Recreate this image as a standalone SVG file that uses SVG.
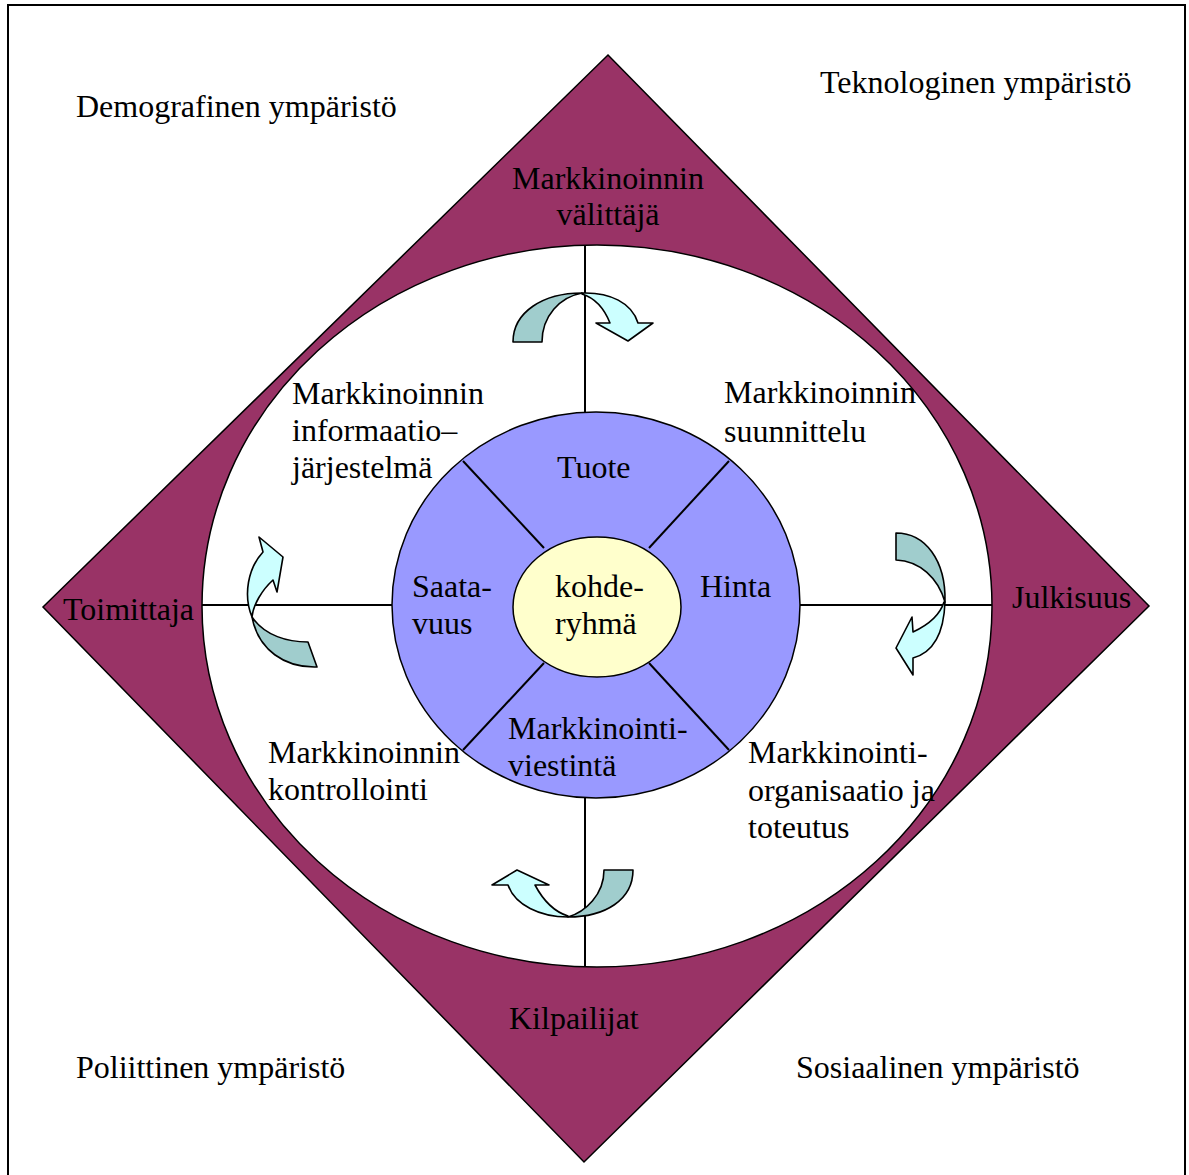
<svg xmlns="http://www.w3.org/2000/svg" width="1189" height="1175" viewBox="0 0 1189 1175">
  <style>
    text { font-family: "Liberation Serif", "Times New Roman", serif; font-size: 32px; fill: #000; }
    .mid { text-anchor: middle; }
    .edge { stroke: #000; stroke-width: 1.5; }
    .rule { stroke: #000; stroke-width: 2; fill: none; }
    .back { fill: #A0CDCD; stroke: #000; stroke-width: 1.6; stroke-linejoin: round; }
    .front { fill: #CCFFFF; stroke: #000; stroke-width: 1.6; stroke-linejoin: round; }
  </style>

  <!-- frame -->
  <rect x="8" y="5" width="1177" height="1180" fill="#fff" stroke="#000" stroke-width="2"/>

  <!-- environment labels -->
  <g id="env-demografinen"><text x="76" y="117">Demografinen ympäristö</text></g>
  <g id="env-teknologinen"><text x="820" y="93">Teknologinen ympäristö</text></g>
  <g id="env-poliittinen"><text x="76" y="1078">Poliittinen ympäristö</text></g>
  <g id="env-sosiaalinen"><text x="796" y="1078">Sosiaalinen ympäristö</text></g>

  <!-- outer diamond: market actors -->
  <g id="actors">
    <polygon points="608,55 1149,606 584,1162 43,607" fill="#993366" class="edge"/>
  </g>

  <!-- white management area -->
  <g id="management">
    <ellipse cx="597" cy="606" rx="395" ry="361" fill="#fff" class="edge"/>
  </g>

  <!-- connectors: cross and sector dividers -->
  <g id="connectors">
    <line x1="585" y1="245" x2="585" y2="413" class="rule"/>
    <line x1="585" y1="798" x2="585" y2="967" class="rule"/>
    <line x1="202" y1="605" x2="392" y2="605" class="rule"/>
    <line x1="800" y1="605" x2="992" y2="605" class="rule"/>
  </g>

  <!-- marketing mix ring -->
  <g id="mix">
    <ellipse cx="596" cy="605" rx="204" ry="193" fill="#9999FF" class="edge"/>
    <line x1="463" y1="461" x2="544" y2="548" class="rule"/>
    <line x1="729" y1="461" x2="649" y2="548" class="rule"/>
    <line x1="463" y1="750" x2="544" y2="663" class="rule"/>
    <line x1="729" y1="750" x2="649" y2="663" class="rule"/>
  </g>

  <!-- target group -->
  <g id="kohderyhma">
    <ellipse cx="597" cy="607" rx="84" ry="70" fill="#FFFFCC" class="edge"/>
    <text x="555" y="597">kohde-</text>
    <text x="555" y="634">ryhmä</text>
  </g>

  <!-- mix labels -->
  <g id="tuote"><text x="557" y="478">Tuote</text></g>
  <g id="hinta"><text x="700" y="597">Hinta</text></g>
  <g id="saatavuus"><text x="412" y="597">Saata-</text><text x="412" y="634">vuus</text></g>
  <g id="viestinta"><text x="508" y="739">Markkinointi-</text><text x="508" y="776">viestintä</text></g>

  <!-- management labels -->
  <g id="informaatio">
    <text x="292" y="404">Markkinoinnin</text>
    <text x="292" y="441">informaatio–</text>
    <text x="292" y="478">järjestelmä</text>
  </g>
  <g id="suunnittelu">
    <text x="724" y="403">Markkinoinnin</text>
    <text x="724" y="442">suunnittelu</text>
  </g>
  <g id="kontrollointi">
    <text x="268" y="763">Markkinoinnin</text>
    <text x="268" y="800">kontrollointi</text>
  </g>
  <g id="organisaatio">
    <text x="748" y="763">Markkinointi-</text>
    <text x="748" y="801">organisaatio ja</text>
    <text x="748" y="838">toteutus</text>
  </g>

  <!-- actor labels -->
  <g id="valittaja"><text x="608" y="189" class="mid">Markkinoinnin</text><text x="608" y="225" class="mid">välittäjä</text></g>
  <g id="toimittaja"><text x="63" y="620">Toimittaja</text></g>
  <g id="julkisuus"><text x="1012" y="608">Julkisuus</text></g>
  <g id="kilpailijat"><text x="509" y="1029">Kilpailijat</text></g>

  <!-- process cycle arrows -->
  <g id="arrow-top">
    <path class="back" d="M513,342 C513,312 543,293 582,293 C560,297 542,316 542,342 Z"/>
    <path class="front" d="M582,293 C610,292 632,303 638,323 L653,323 L628,341 L596,323 L610,323 C604,308 595,298 582,294 Z"/>
  </g>
  <g id="arrow-right">
    <path class="back" d="M896,533 C925,533 946,560 945,602 C938,578 920,561 896,560 Z"/>
    <path class="front" d="M945,602 C944,630 935,652 913,658 L913,675 L896,648 L912,617 L913,632 C928,625 940,615 944,602 Z"/>
  </g>
  <g id="arrow-bottom">
    <path class="back" d="M633,870 C633,900 605,917 568,917 C585,912 604,895 604,870 Z"/>
    <path class="front" d="M568,917 C540,917 515,905 508,885 L492,885 L517,870 L549,885 L535,885 C543,900 555,912 568,916 Z"/>
  </g>
  <g id="arrow-left">
    <path class="back" d="M252,617 C265,636 288,642 308,642 L317,667 C285,668 258,650 252,617 Z"/>
    <path class="front" d="M252,617 C243,595 248,568 263,552 L259,537 L283,557 L277,592 L273,580 C262,590 253,605 252,617 Z"/>
  </g>
</svg>
